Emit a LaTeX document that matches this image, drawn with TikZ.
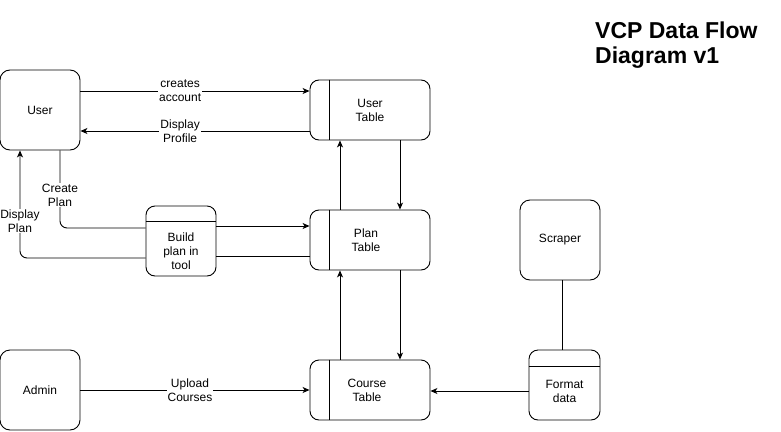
\documentclass[tikz,border=0pt]{standalone}
\usepackage{fontspec}
\setmainfont{Liberation Sans}
\usetikzlibrary{arrows.meta,calc}

\tikzset{
  base/.style={draw=black, line width=0.9pt, font=\fontsize{12}{14}\selectfont, align=center, inner sep=0pt},
  entity/.style={base, rectangle, rounded corners=10pt, minimum width=80pt, minimum height=80pt},
  store/.style={base, rectangle, rounded corners=9pt, minimum width=120pt, minimum height=60pt},
  process/.style={base, rectangle, rounded corners=9pt},
  flow/.style={line width=0.9pt, -{Stealth[length=7pt,width=6pt,inset=2pt]}},
  link/.style={line width=0.9pt},
  lbl/.style={fill=white, inner sep=1pt, align=center, font=\fontsize{12}{14}\selectfont},
  title/.style={font=\bfseries\fontsize{23}{25}\selectfont, align=left, inner sep=0pt}
}

\begin{document}
\begin{tikzpicture}[x=1pt, y=-1pt]
  \useasboundingbox (0,0) rectangle (781,431);

  % external entities
  \node[entity] (user)    at (40,110)  {User};
  \node[entity] (admin)   at (40,390)  {Admin};
  \node[entity] (scraper) at (560,240) {Scraper};

  % data stores
  \node[store] (ut) at (370,110) {};
  \node[store] (pt) at (370,240) {};
  \node[store] (ct) at (370,390) {};
  \foreach \s in {ut,pt,ct}
    \draw[link] ([xshift=20pt]\s.north west) -- ([xshift=20pt]\s.south west);
  \node[lbl, fill=none] at (370,110) {User\\Table};
  \node[lbl, fill=none] at (366,240) {Plan\\Table};
  \node[lbl, fill=none] at (367,390) {Course\\Table};

  % processes
  \node[process, minimum width=70pt, minimum height=70pt] (build) at (181,241) {};
  \draw[link] ([yshift=-16pt]build.north west) -- ([yshift=-16pt]build.north east);
  \node[lbl, fill=none] at (181,251) {Build\\plan in\\tool};

  \node[process, minimum width=71pt, minimum height=70pt] (fmt) at (564.5,385) {};
  \draw[link] ([yshift=-17pt]fmt.north west) -- ([yshift=-17pt]fmt.north east);
  \node[lbl, fill=none] at (564.5,391) {Format\\data};

  % user <-> user table
  \draw[flow] (user.east |- 0,91) -- node[lbl, pos=0.435] {creates\\account} (ut.west |- 0,91);
  \draw[flow] (ut.west |- 0,131) -- node[lbl, pos=0.565] {Display\\Profile} (user.east |- 0,131);

  % table <-> table
  \draw[flow] (pt.north -| 340,0) -- (ut.south -| 340,0);
  \draw[flow] (ut.south -| 400,0) -- (pt.north -| 400,0);
  \draw[flow] (ct.north -| 340,0) -- (pt.south -| 340,0);
  \draw[flow] (pt.south -| 400,0) -- (ct.north -| 400,0);

  % plan building loop
  \draw[link, rounded corners=7pt] (user.south -| 60,0) |- (build.west |- 0,228);
  \node[lbl] at (60,195) {Create\\Plan};
  \draw[flow] (build.east |- 0,226) -- (pt.west |- 0,226);
  \draw[link] (pt.west |- 0,256) -- (build.east |- 0,256);
  \draw[flow, rounded corners=7pt] (build.west |- 0,258) -| (user.south -| 20,0);
  \node[lbl] at (20,221) {Display\\Plan};

  % course upload and scraping
  \draw[flow] (admin.east) -- node[lbl, pos=0.478] {Upload\\Courses} (ct.west);
  \draw[link] (scraper.south -| 562,0) -- (fmt.north -| 562,0);
  \draw[flow] (fmt.west |- 0,391) -- (ct.east |- 0,391);

  % heading
  \node[title, anchor=north west] (head) at (595,21.5) {VCP Data Flow\\Diagram v1};
\end{tikzpicture}
\end{document}
